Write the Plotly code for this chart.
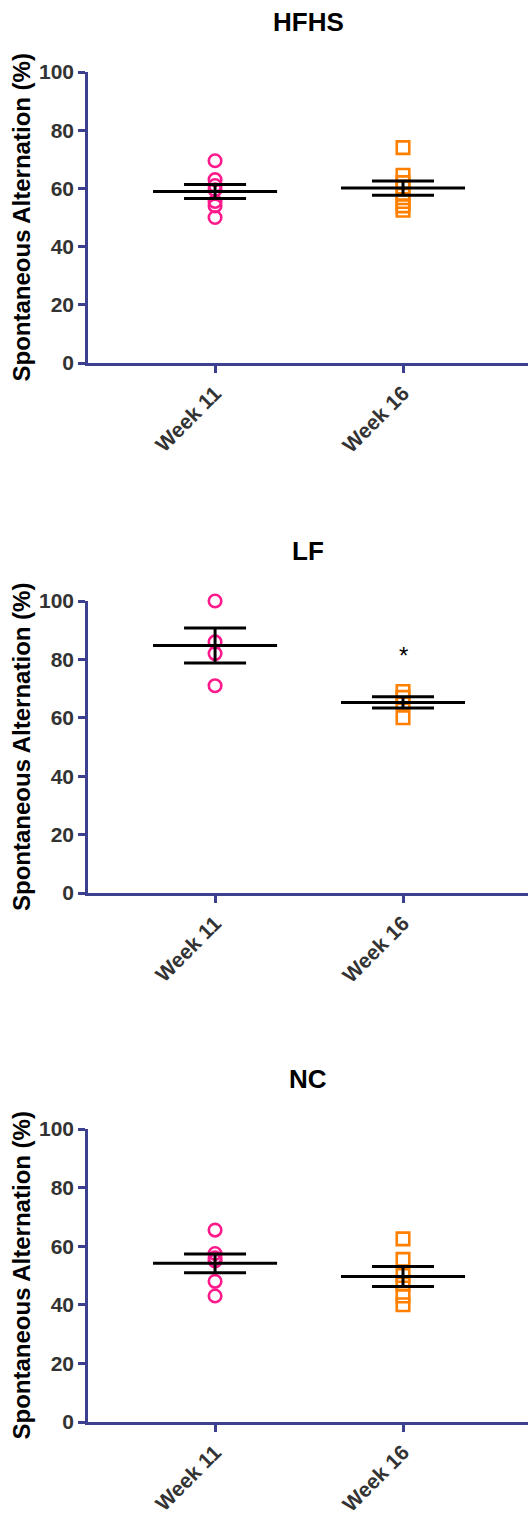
import numpy as np
import plotly.graph_objects as go

# Spontaneous alternation (%) per animal, by diet group and week
groups = ["HFHS", "LF", "NC"]
week_labels = ["Week 11", "Week 16"]
hfhs_week11 = [69.5, 63.0, 61.0, 59.5, 55.5, 54.0, 50.0]
hfhs_week16 = [74.0, 64.5, 62.0, 60.5, 58.0, 55.5, 54.0, 52.5]
lf_week11 = [100.0, 86.0, 82.0, 71.0]
lf_week16 = [69.0, 67.0, 65.0, 60.0]
nc_week11 = [65.5, 57.5, 56.0, 55.0, 48.0, 43.0]
nc_week16 = [62.5, 55.5, 50.0, 47.0, 43.0, 40.0]
y_tick_values = [0, 20, 40, 60, 80, 100]
# significance marker: (group, week index, height)
significance = [("LF", 1, 81.5, "*")]

data = {
    "HFHS": [hfhs_week11, hfhs_week16],
    "LF": [lf_week11, lf_week16],
    "NC": [nc_week11, nc_week16],
}

W, H = 528, 1515
FONT = "Liberation Sans, Arial, sans-serif"
AXIS_COLOR = "#3d3f8f"
PINK = "#ff1a8c"
ORANGE = "#ff8000"
marker_styles = [
    dict(symbol="circle-open", color=PINK, size=12.5, line=dict(width=2.6, color=PINK)),
    dict(symbol="square-open", color=ORANGE, size=12.5, line=dict(width=2.6, color=ORANGE)),
]

# pixel layout of each panel's plot area (top, bottom)
panel_px = [(72, 363), (601, 893), (1129, 1422)]
x_left_px = 88

fig = go.Figure()

for i, g in enumerate(groups):
    n = "" if i == 0 else str(i + 1)
    xa, ya = "x" + n, "y" + n
    top, bot = panel_px[i]
    for k, vals in enumerate(data[g]):
        v = np.asarray(vals, dtype=float)
        fig.add_trace(go.Scatter(
            x=[k] * len(v), y=v, mode="markers", marker=marker_styles[k],
            xaxis=xa, yaxis=ya, showlegend=False, cliponaxis=False,
        ))
        mean = v.mean()
        sem = v.std(ddof=1) / np.sqrt(len(v))
        lx, ly = [], []
        # mean bar
        lx += [k - 0.33, k + 0.33, None]
        ly += [mean, mean, None]
        # SEM whiskers and caps
        lx += [k, k, None, k - 0.165, k + 0.165, None, k - 0.165, k + 0.165]
        ly += [mean - sem, mean + sem, None, mean + sem, mean + sem, None, mean - sem, mean - sem]
        fig.add_trace(go.Scatter(
            x=lx, y=ly, mode="lines", line=dict(color="black", width=3),
            xaxis=xa, yaxis=ya, showlegend=False, cliponaxis=False,
        ))
    for sg, wk, yv, txt in significance:
        if sg == g:
            fig.add_annotation(x=wk, y=yv, xref=xa, yref=ya, text=txt, showarrow=False,
                               font=dict(family=FONT, size=24, color="black"))

    ydom = [1 - bot / H, 1 - top / H]
    fig.update_layout(**{
        "xaxis" + n: dict(
            domain=[x_left_px / W, 1], range=[-0.676, 1.665], anchor=ya,
            tickvals=[0, 1], ticktext=week_labels, tickangle=-45,
            showline=True, linecolor=AXIS_COLOR, linewidth=2.5,
            ticks="outside", ticklen=7, tickwidth=2.5, tickcolor=AXIS_COLOR,
            showgrid=False, zeroline=False, automargin=False,
            tickfont=dict(family=FONT, size=21, color="#333333", weight="bold"),
        ),
        "yaxis" + n: dict(
            domain=ydom, range=[0, 100], anchor=xa,
            tickvals=y_tick_values,
            showline=True, linecolor=AXIS_COLOR, linewidth=2.5,
            ticks="outside", ticklen=7, tickwidth=2.5, tickcolor=AXIS_COLOR,
            showgrid=False, zeroline=False, automargin=False,
            tickfont=dict(family=FONT, size=21, color="#333333", weight="bold"),
        ),
    })
    # panel title
    fig.add_annotation(x=308 / W, y=1 - (top - 50) / H, xref="paper", yref="paper",
                       text=f"<b>{g}</b>", showarrow=False, yanchor="middle",
                       font=dict(family=FONT, size=26, color="black"))
    # y-axis title
    fig.add_annotation(x=21 / W, y=1 - ((top + bot) / 2) / H, xref="paper", yref="paper",
                       text="<b>Spontaneous Alternation (%)</b>", showarrow=False,
                       textangle=-90, xanchor="center", yanchor="middle",
                       font=dict(family=FONT, size=24, color="black"))

fig.update_layout(
    width=W, height=H, margin=dict(l=0, r=0, t=0, b=0),
    plot_bgcolor="white", paper_bgcolor="white",
)

fig.write_html("out.html")
